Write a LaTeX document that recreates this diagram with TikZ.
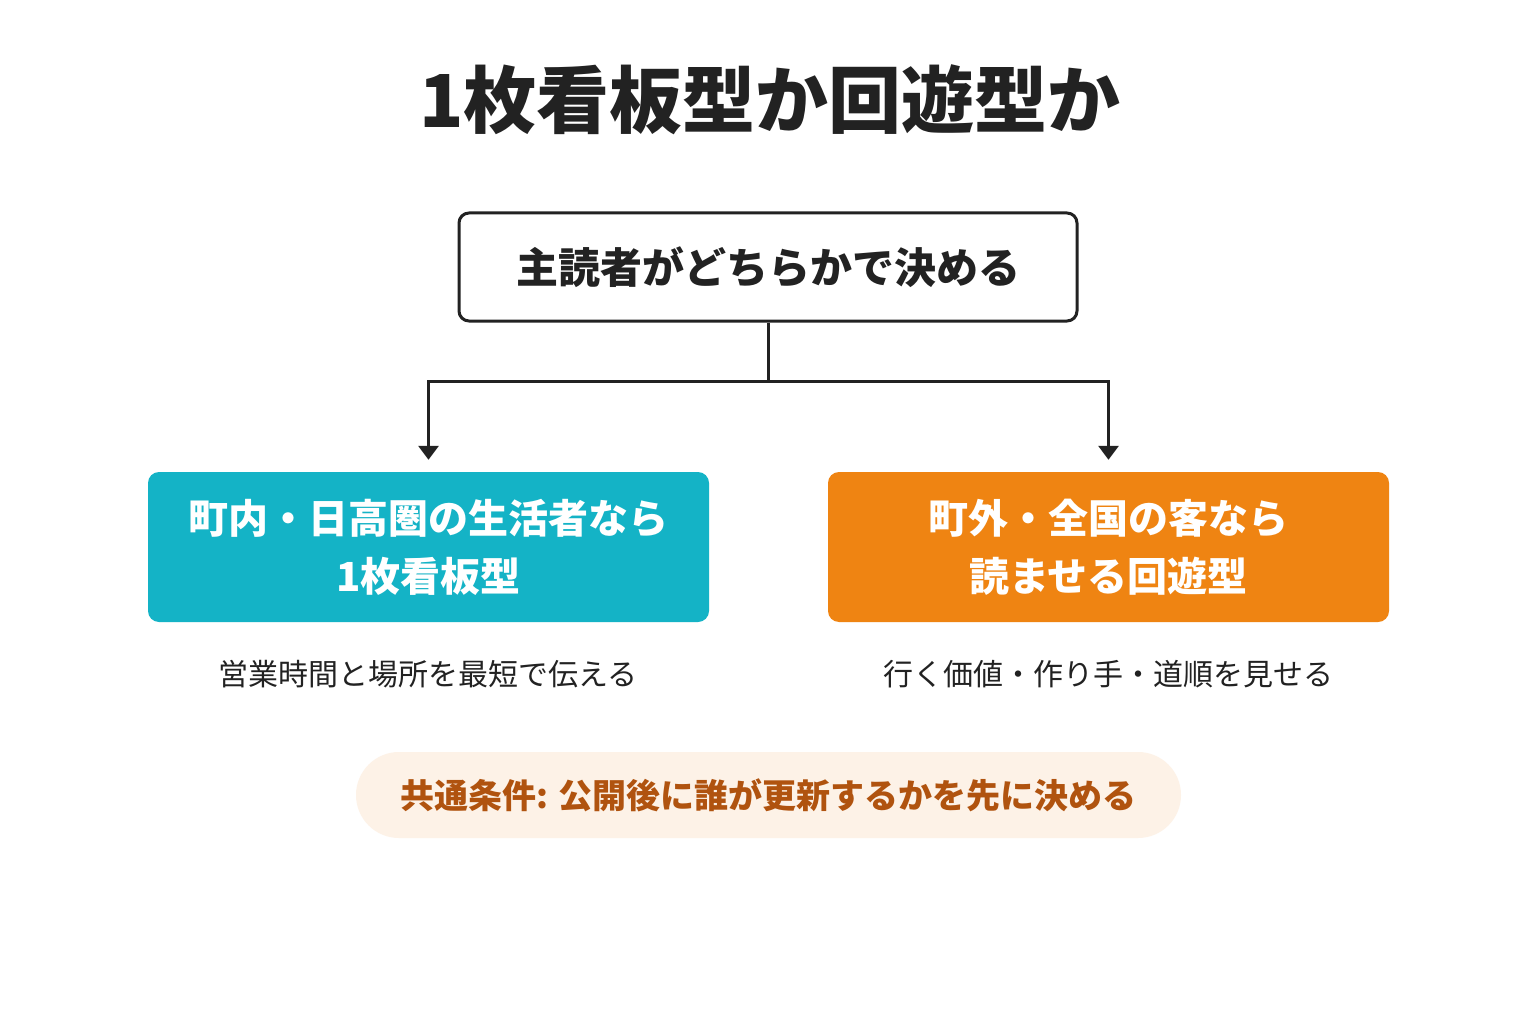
\documentclass[tikz,border=0pt]{standalone}
\usepackage{fontspec}
\setmainfont{Noto Sans CJK JP}
\newfontfamily\jpfont{Noto Sans CJK JP}
\usetikzlibrary{arrows.meta}
\definecolor{ink}{HTML}{222222}
\definecolor{teal}{HTML}{14B3C6}
\definecolor{orng}{HTML}{EF8412}
\definecolor{pillbg}{HTML}{FDF2E7}
\definecolor{pilltx}{HTML}{B0530F}
\tikzset{
  decbox/.style={draw=ink, line width=3pt, rounded corners=10pt, fill=white, minimum width=618pt, minimum height=108pt, inner sep=0pt},
  choicebox/.style={rounded corners=11pt, minimum width=561pt, minimum height=150pt, inner sep=0pt, text=white, align=center, font=\jpfont\bfseries\fontsize{40}{58}\selectfont},
  subtext/.style={text=ink, font=\jpfont\fontsize{30}{36}\selectfont, inner sep=0pt},
  conn/.style={draw=ink, line width=3pt},
  arr/.style={conn, -{Triangle[width=20pt,length=14pt]}}
}
\begin{document}
\begin{tikzpicture}[x=1pt,y=-1pt]
\useasboundingbox (0,0) rectangle (1536,1024);
\fill[white] (0,0) rectangle (1536,1024);
\node[text=ink, font=\jpfont\bfseries\fontsize{73}{80}\selectfont, inner sep=0pt] (title) at (770,100) {1枚看板型か回遊型か};
\node[decbox, font=\jpfont\bfseries\fontsize{42}{50}\selectfont, text=ink] (q) at (768,267) {主読者がどちらかで決める};
\node[choicebox, fill=teal] (left) at (428.5,547) {町内・日高圏の生活者なら\\1枚看板型};
\node[choicebox, fill=orng] (right) at (1108.5,547) {町外・全国の客なら\\読ませる回遊型};
\node[subtext] (lsub) at (428,674) {営業時間と場所を最短で伝える};
\node[subtext] (rsub) at (1108,674) {行く価値・作り手・道順を見せる};
\node[fill=pillbg, rounded corners=43pt, minimum width=825pt, minimum height=86pt, inner sep=0pt, text=pilltx, font=\jpfont\bfseries\fontsize{34}{40}\selectfont] (pill) at (768.5,795) {共通条件: 公開後に誰が更新するかを先に決める};
\coordinate (split) at (768,381);
\draw[conn] (q.south) -- (split);
\draw[arr] (split) -| ([yshift=12pt]left.north);
\draw[arr] (split) -| ([yshift=12pt]right.north);
\end{tikzpicture}
\end{document}
